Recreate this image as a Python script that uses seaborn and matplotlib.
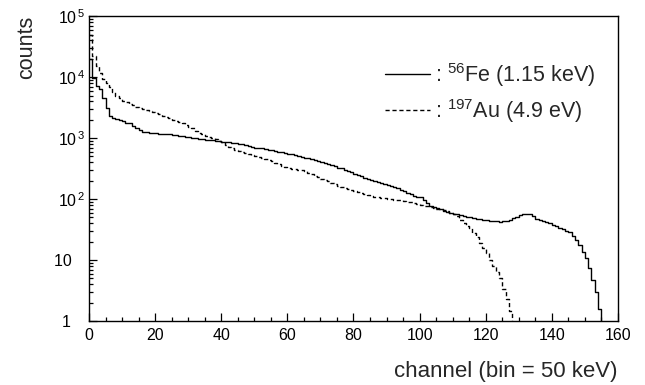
import numpy as np
import pandas as pd
import seaborn as sns
import matplotlib.pyplot as plt
from matplotlib.ticker import FixedLocator, MultipleLocator, LogLocator, NullFormatter

# counts per channel (bin = 50 keV)
fe_counts = [
    20000, 9600, 7200, 6500, 4600, 3100, 2300, 2100, 2050, 2000,
    1900, 1800, 1750, 1600, 1450, 1350, 1280, 1250, 1230, 1220,
    1200, 1180, 1170, 1160, 1150, 1140, 1120, 1100, 1080, 1060,
    1040, 1020, 1000, 980, 960, 945, 930, 915, 900, 890,
    880, 870, 860, 845, 830, 810, 790, 770, 745, 720,
    700, 690, 680, 665, 650, 635, 620, 600, 585, 570,
    555, 540, 525, 510, 495, 480, 465, 450, 435, 420,
    405, 390, 375, 360, 345, 330, 318, 305, 292, 280,
    255, 245, 235, 225, 215, 205, 197, 189, 182, 176,
    170, 166, 158, 150, 142, 135, 128, 121, 114, 110,
    108, 98, 88, 78, 74, 71, 68, 65, 62, 60,
    58, 56.5, 55, 53, 51.5, 50, 49, 48, 47, 46,
    45, 44, 43.5, 43, 42.5, 43, 44, 46, 48.5, 51,
    54, 56, 57, 56.5, 53, 48, 45, 43, 41.5, 40,
    38, 36, 34, 32, 30.5, 28.5, 25, 21, 17.6, 13.7,
    10.7, 7.4, 4.7, 3.0, 1.6,
]
au_counts = [
    50000, 22000, 15000, 11700, 9500, 8000, 6800, 5800, 5000, 4500,
    4100, 3850, 3600, 3450, 3300, 3150, 3000, 2900, 2800, 2700,
    2600, 2450, 2300, 2200, 2100, 2000, 1900, 1820, 1750, 1650,
    1550, 1450, 1300, 1200, 1150, 1100, 1050, 1000, 950, 900,
    850, 780, 720, 680, 650, 620, 590, 560, 540, 520,
    500, 485, 470, 455, 435, 415, 395, 375, 355, 335,
    320, 315, 310, 305, 298, 285, 270, 255, 240, 228,
    215, 205, 195, 185, 175, 167, 160, 153, 147, 141,
    135, 130, 125, 120, 116, 113, 110, 108, 106, 104,
    102, 100, 98, 97, 95, 93, 91, 89, 86, 84,
    81, 78, 76, 74, 72, 70, 68, 66, 63, 60,
    57, 53, 45, 40, 36, 33, 28, 24, 19, 15.5,
    13, 10, 8, 6.5, 5, 3.4, 2.3, 1.45,
]
fe_label = r": $^{56}$Fe (1.15 keV)"
au_label = r": $^{197}$Au (4.9 eV)"
x_ticks = [0, 20, 40, 60, 80, 100, 120, 140, 160]
y_ticks = [1, 10, 100, 1000, 10000, 100000]
y_tick_labels = ["1   ", "10   ", r"10$^{\,2}$", r"10$^{\,3}$", r"10$^{\,4}$", r"10$^{\,5}$"]

sns.set_theme(style="ticks")
plt.rcParams["font.family"] = ["Liberation Sans", "DejaVu Sans"]
plt.rcParams["mathtext.fontset"] = "custom"
plt.rcParams["mathtext.rm"] = "Liberation Sans"
plt.rcParams["mathtext.it"] = "Liberation Sans:italic"

fe = pd.DataFrame({"channel": np.arange(len(fe_counts)) + 0.5, "counts": fe_counts})
au = pd.DataFrame({"channel": np.arange(len(au_counts)) + 0.5, "counts": au_counts})

fig = plt.figure(figsize=(6.45, 3.85), dpi=100)
ax = fig.add_axes([0.138, 0.166, 0.820, 0.792])

sns.histplot(data=fe, x="channel", weights="counts", binwidth=1, binrange=(0, 160),
             element="step", fill=False, color="black", lw=1.0, ax=ax, label=fe_label)
sns.histplot(data=au, x="channel", weights="counts", binwidth=1, binrange=(0, 160),
             element="step", fill=False, color="black", lw=1.0, ls=(0, (3, 2)),
             ax=ax, label=au_label)

ax.set_yscale("log")
ax.set_xlim(0, 160)
ax.set_ylim(1, 1e5)

ax.xaxis.set_major_locator(FixedLocator(x_ticks))
ax.xaxis.set_minor_locator(MultipleLocator(5))
ax.set_xticklabels([str(t) for t in x_ticks])
ax.yaxis.set_major_locator(FixedLocator(y_ticks))
ax.set_yticklabels(y_tick_labels)
ax.yaxis.set_minor_locator(LogLocator(base=10, subs=np.arange(2, 10)))
ax.yaxis.set_minor_formatter(NullFormatter())

ax.tick_params(which="both", direction="in", top=False, right=False,
               labelsize=11.5, width=0.9, colors="black")
ax.tick_params(axis="x", which="major", length=5.5, pad=5)
ax.tick_params(axis="x", which="minor", length=3)
ax.tick_params(axis="y", which="major", length=5.5, pad=3)
ax.tick_params(axis="y", which="minor", length=3)
for s in ax.spines.values():
    s.set_visible(True)
    s.set_linewidth(1.0)
    s.set_color("black")

ax.set_xlabel("channel (bin = 50 keV)", fontsize=16, loc="right")
ax.xaxis.set_label_coords(1.0, -0.13)
ax.set_ylabel("counts", fontsize=15.5, loc="top")
ax.yaxis.set_label_coords(-0.098, 1.0)

ax.legend(loc="upper left", bbox_to_anchor=(0.56, 0.853), frameon=False,
          fontsize=15.5, handlelength=2.1, handletextpad=0.2, labelspacing=0.38,
          borderpad=0, borderaxespad=0)

fig.savefig("out.png", dpi=100)
